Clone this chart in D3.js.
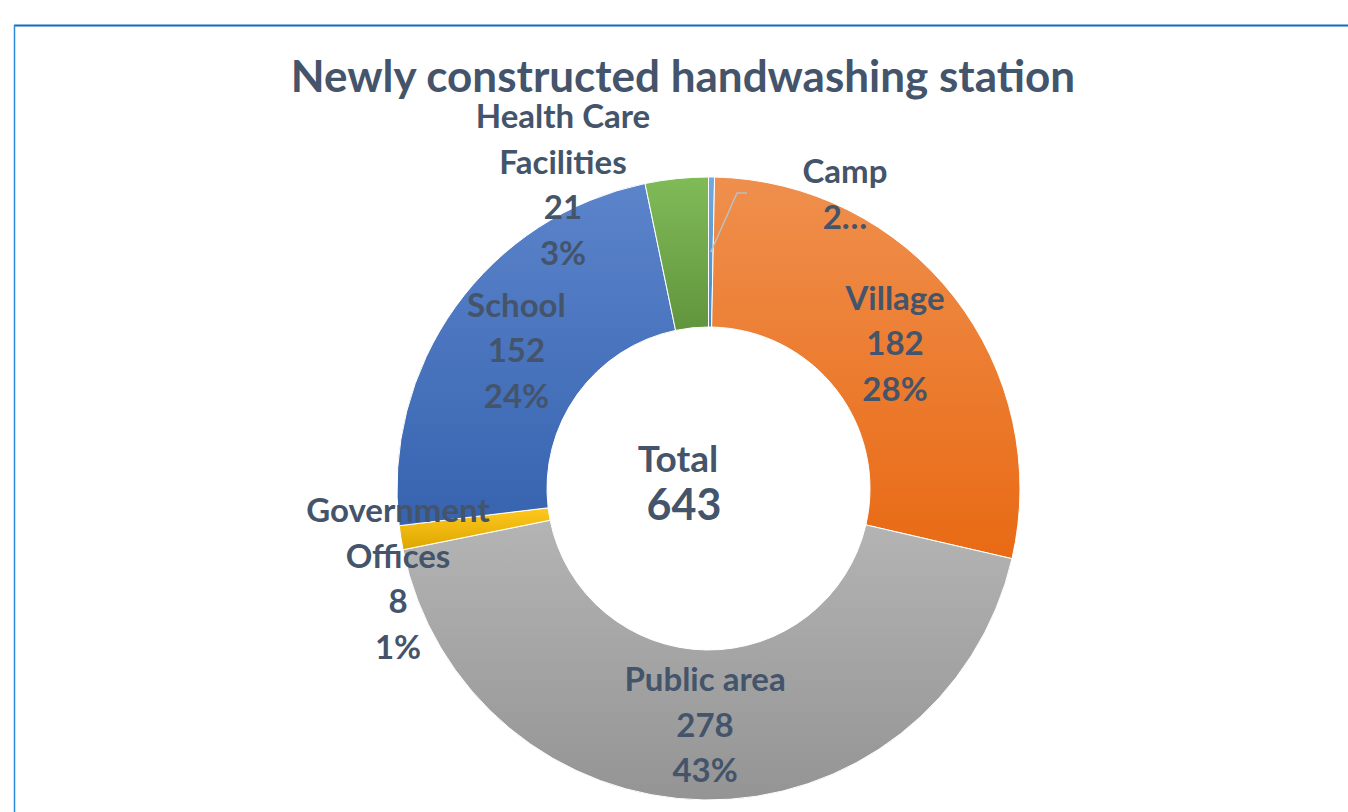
<!DOCTYPE html>
<html><head><meta charset="utf-8">
<script src="https://cdn.jsdelivr.net/npm/d3@7"></script>
<style>body{margin:0;background:#fff}svg{display:block}</style>
</head><body><svg id="c" width="1348" height="812"></svg>
<script>
// ---- data ----
const titleText = "Newly constructed handwashing station";
const categories = ["Camp", "Village", "Public area", "Government Offices", "School", "Health Care Facilities"];
const categoryLines = [["Camp"], ["Village"], ["Public area"], ["Government", "Offices"], ["School"], ["Health Care", "Facilities"]];
const values = [2, 182, 278, 8, 152, 21];
const colors = ["#5B9BD5", "#ED7D31", "#A5A5A5", "#FFC000", "#4472C4", "#70AD47"];
const totalLabel = "Total";

// ---- layout ----
const W = 1348, H = 812;
const cx = 708.5, cy = 488.5, rOuter = 311.5, rInner = 161.5;
const textColor = "#44546A";
const font = "Lato, 'Open Sans', sans-serif";
const lineH = 45.5;
const svg = d3.select("#c");

// frame
svg.append("line").attr("x1", 14).attr("x2", W).attr("y1", 25.5).attr("y2", 25.5)
  .attr("stroke", "#0A6FBF").attr("stroke-width", 2);
svg.append("line").attr("x1", 14.5).attr("x2", 14.5).attr("y1", 25).attr("y2", H)
  .attr("stroke", "#2A8AD6").attr("stroke-width", 1.5);

// gradients
const defs = svg.append("defs");
colors.forEach((c, i) => {
  const g = defs.append("linearGradient").attr("id", "g" + i)
    .attr("x1", 0).attr("y1", 0).attr("x2", 0).attr("y2", 1);
  const top = d3.hsl(c); top.l = Math.min(1, top.l + 0.06);
  const bot = d3.hsl(c); bot.l = Math.max(0, bot.l - 0.065);
  g.append("stop").attr("offset", "0%").attr("stop-color", top.formatHex());
  g.append("stop").attr("offset", "100%").attr("stop-color", bot.formatHex());
});

const total = d3.sum(values);
const pct = d3.format(".0%");
const pie = d3.pie().sort(null).value(d => d.v).startAngle(0).endAngle(2 * Math.PI);
const data = values.map((v, i) => ({ v, i, name: categories[i] }));
const arcs = pie(data);
const arc = d3.arc().innerRadius(rInner).outerRadius(rOuter);
const mid = d3.arc().innerRadius((rInner + rOuter) / 2).outerRadius((rInner + rOuter) / 2);

const g = svg.append("g").attr("transform", `translate(${cx},${cy})`);
g.selectAll("path.slice").data(arcs).join("path").attr("class", "slice")
  .attr("d", arc).attr("fill", d => `url(#g${d.data.i})`)
  .attr("stroke", "#ffffff").attr("stroke-width", 1);

// title
svg.append("text").attr("x", 683).attr("y", 92).attr("text-anchor", "middle")
  .attr("font-family", font).attr("font-weight", 700).attr("font-size", 44)
  .attr("fill", textColor).text(titleText);

// labels
const outside = {
  "Camp": { dx: 136.5, dy: -305.5, leader: [[28.5, -295.5], [38.5, -295.5]], truncate: true },
  "Health Care Facilities": { dx: -145.5, dy: -360.5 },
  "Government Offices": { dx: -310.5, dy: 33.5 }
};
const lblSize = 33;
arcs.forEach(a => {
  const d = a.data;
  const valStr = d.v.toString();
  let lines = categoryLines[d.i].concat([valStr, pct(d.v / total)]);
  let x, y0;
  const o = outside[d.name];
  if (o) {
    if (o.truncate) lines = [categoryLines[d.i][0], valStr + "\u2026"];
    x = o.dx; y0 = o.dy;
    if (o.leader) {
      const c = mid.centroid(a);
      g.append("polyline").attr("points", [c].concat(o.leader).map(p => p.join(",")).join(" "))
        .attr("fill", "none").attr("stroke", "#BFBFBF").attr("stroke-width", 1.5);
    }
  } else {
    const c = mid.centroid(a);
    x = c[0];
    y0 = c[1] + 0.36 * lblSize - (lines.length - 1) / 2 * lineH;
  }
  const t = g.append("text").attr("text-anchor", "middle")
    .attr("font-family", font).attr("font-weight", 700).attr("font-size", lblSize).attr("fill", textColor);
  lines.forEach((s, k) => t.append("tspan").attr("x", x).attr("y", y0 + k * lineH).text(s));
});

// center total
g.append("text").attr("x", -30.5).attr("y", -16.5).attr("text-anchor", "middle")
  .attr("font-family", font).attr("font-weight", 700).attr("font-size", 37).attr("fill", textColor).text(totalLabel);
g.append("text").attr("x", -24.5).attr("y", 31.5).attr("text-anchor", "middle")
  .attr("font-family", font).attr("font-weight", 700).attr("font-size", 43).attr("fill", textColor).text(total);
</script></body></html>
